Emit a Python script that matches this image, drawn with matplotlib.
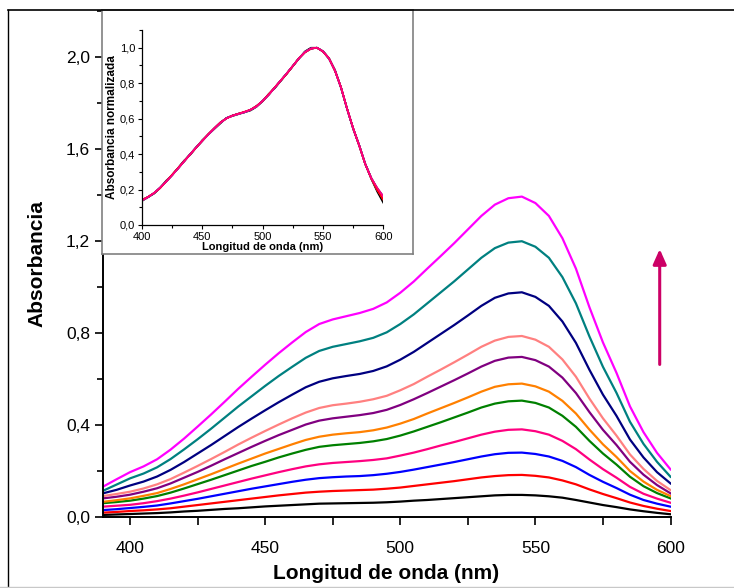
import matplotlib
matplotlib.use("Agg")
import matplotlib.pyplot as plt
from matplotlib.lines import Line2D
from matplotlib.ticker import MultipleLocator, FuncFormatter
import numpy as np

plt.rcParams['font.family'] = ['Liberation Sans', 'DejaVu Sans']

# ---------------- data ----------------
wavelength = [390, 395, 400, 405, 410, 415, 420, 425, 430, 435, 440, 445, 450, 455,
              460, 465, 470, 475, 480, 485, 490, 495, 500, 505, 510, 515, 520, 525,
              530, 535, 540, 545, 550, 555, 560, 565, 570, 575, 580, 585, 590, 595, 600]

abs_magenta = [.132, .164, .195, .220, .251, .293, .341, .393, .446, .501, .557, .610,
               .662, .712, .759, .804, .839, .859, .873, .887, .905, .933, .975, 1.024,
               1.080, 1.135, 1.191, 1.250, 1.309, 1.358, 1.386, 1.393, 1.365, 1.309,
               1.212, 1.080, .912, .759, .627, .481, .369, .279, .207]
abs_teal = [.114, .141, .168, .189, .216, .252, .294, .338, .384, .432, .480, .525,
            .570, .613, .653, .692, .722, .740, .752, .764, .779, .803, .839, .881,
            .929, .977, 1.025, 1.076, 1.127, 1.169, 1.193, 1.199, 1.175, 1.127,
            1.043, .929, .785, .653, .540, .414, .318, .240, .175]
abs_navy = [.103, .118, .137, .154, .176, .205, .239, .276, .313, .352, .391, .428,
            .464, .499, .532, .564, .588, .603, .613, .622, .635, .655, .684, .718,
            .757, .796, .835, .876, .918, .953, .972, .977, .957, .918, .850, .757,
            .640, .532, .440, .337, .259, .195, .146]
abs_salmon = [.091, .100, .110, .124, .142, .165, .193, .222, .252, .283, .315, .345,
              .374, .402, .429, .454, .474, .486, .493, .501, .512, .527, .551, .578,
              .610, .641, .673, .706, .740, .767, .783, .787, .771, .740, .685, .610,
              .515, .429, .354, .272, .209, .157, .117]
abs_purple = [.081, .088, .097, .110, .125, .146, .171, .196, .223, .251, .278, .305,
              .331, .356, .379, .402, .419, .429, .436, .443, .452, .466, .487, .512,
              .539, .567, .595, .624, .654, .679, .693, .696, .682, .654, .606, .539,
              .456, .379, .313, .240, .184, .139, .103]
abs_orange = [.066, .073, .081, .092, .104, .122, .142, .164, .186, .209, .232, .254,
              .276, .296, .316, .335, .349, .358, .364, .369, .377, .389, .406, .426,
              .450, .473, .496, .520, .545, .566, .577, .580, .568, .545, .505, .450,
              .380, .316, .261, .200, .154, .118, .091]
abs_green = [.060, .065, .071, .080, .091, .106, .124, .143, .162, .182, .202, .222,
             .240, .259, .276, .292, .305, .312, .317, .322, .329, .339, .354, .372,
             .392, .412, .433, .454, .476, .493, .503, .506, .496, .476, .440, .392,
             .331, .276, .228, .175, .134, .104, .081]
abs_pink = [.045, .049, .053, .060, .069, .080, .093, .107, .122, .137, .152, .167,
            .181, .195, .208, .220, .229, .235, .239, .243, .248, .255, .267, .280,
            .295, .311, .326, .342, .358, .371, .379, .381, .373, .358, .331, .295,
            .250, .208, .171, .131, .101, .080, .062]
abs_blue = [.030, .034, .039, .044, .050, .059, .069, .079, .090, .101, .112, .123,
            .133, .143, .153, .162, .169, .173, .176, .178, .182, .188, .196, .206,
            .217, .228, .239, .251, .263, .273, .279, .280, .274, .263, .244, .217,
            .183, .153, .126, .097, .074, .058, .045]
abs_red = [.019, .022, .026, .029, .033, .038, .045, .052, .059, .066, .073, .080,
           .087, .094, .100, .106, .110, .113, .115, .117, .119, .123, .128, .135,
           .142, .149, .156, .164, .172, .178, .182, .183, .179, .172, .159, .142,
           .120, .100, .082, .063, .048, .036, .026]
abs_black = [.009, .011, .013, .015, .017, .020, .024, .027, .031, .035, .038, .042,
             .046, .049, .052, .055, .058, .059, .060, .061, .062, .064, .067, .071,
             .074, .078, .082, .086, .090, .094, .096, .096, .094, .090, .084, .074,
             .063, .052, .043, .033, .025, .018, .012]

series = [abs_black, abs_red, abs_blue, abs_pink, abs_green, abs_orange,
          abs_purple, abs_salmon, abs_navy, abs_teal, abs_magenta]
colors = ['#000000', '#FF0000', '#0000FF', '#FF0080', '#008000', '#FF8000',
          '#800080', '#FF8080', '#000080', '#008080', '#FF00FF']

x_major = [400, 450, 500, 550, 600]
y_major = [0.0, 0.4, 0.8, 1.2, 1.6, 2.0]
inset_y_major = [0.0, 0.2, 0.4, 0.6, 0.8, 1.0]

W, H = 734, 588
fig = plt.figure(figsize=(W / 100, H / 100), dpi=100)

def fx(px):
    return px / W

def fy(py):
    return 1 - py / H

comma = FuncFormatter(lambda v, p: f"{v:.1f}".replace('.', ','))

# ---------------- main axes ----------------
ax = fig.add_axes([fx(102.5), fy(517), fx(670.5) - fx(102.5), fy(11) - fy(517)])
for s, c in zip(series, colors):
    ax.plot(wavelength, s, color=c, lw=1.6, solid_joinstyle='round')
ax.set_xlim(389.8, 600)
ax.set_ylim(0, 2.2)
ax.spines['top'].set_visible(False)
ax.spines['right'].set_visible(False)
for sp in ('left', 'bottom'):
    ax.spines[sp].set_linewidth(1.4)
ax.set_xticks(x_major)
ax.xaxis.set_minor_locator(MultipleLocator(25))
ax.set_yticks(y_major)
ax.yaxis.set_minor_locator(MultipleLocator(0.2))
ax.yaxis.set_major_formatter(comma)
ax.tick_params(axis='both', which='both', direction='out', width=1.2, labelsize=12.5)
ax.tick_params(axis='x', which='both', length=6, pad=11)
ax.tick_params(axis='y', which='major', length=6, pad=3)
ax.tick_params(axis='y', which='minor', length=4)
ax.set_xlabel('Longitud de onda (nm)', fontsize=15, fontweight='bold', labelpad=6)
ax.set_ylabel('Absorbancia', fontsize=15, fontweight='bold', labelpad=14)

# arrow
ax.annotate('', xy=(0.981, 0.535), xytext=(0.981, 0.296), xycoords='axes fraction',
            arrowprops=dict(arrowstyle='-|>,head_length=0.9,head_width=0.4',
                            color='#CC0066', lw=2.2))

# ---------------- inset box ----------------
box = fig.add_axes([fx(102), fy(254), fx(413) - fx(102), fy(10) - fy(254)])
box.set_xticks([]); box.set_yticks([])
box.set_facecolor('white')
for sp in box.spines.values():
    sp.set_color('#808080'); sp.set_linewidth(1.2)
box.set_zorder(5)

ins = fig.add_axes([fx(142), fy(225), fx(383.3) - fx(142), fy(30) - fy(225)])
ins.set_zorder(6)
ins.patch.set_alpha(0)
inset_order = [0, 2, 4, 5, 6, 7, 8, 9, 10, 1, 3]
for i in inset_order:
    s = np.array(series[i])
    ins.plot(wavelength, s / s.max(), color=colors[i], lw=1.2)
ins.set_xlim(400, 600)
ins.set_ylim(0, 1.1)
ins.spines['top'].set_visible(False)
ins.spines['right'].set_visible(False)
for sp in ('left', 'bottom'):
    ins.spines[sp].set_linewidth(0.9)
ins.set_xticks(x_major)
ins.xaxis.set_minor_locator(MultipleLocator(25))
ins.set_yticks(inset_y_major)
ins.yaxis.set_minor_locator(MultipleLocator(0.1))
ins.yaxis.set_major_formatter(comma)
ins.tick_params(axis='both', which='major', direction='out', length=3, width=0.8,
                labelsize=8, pad=2)
ins.tick_params(axis='both', which='minor', direction='out', length=2, width=0.8)
ins.set_xlabel('Longitud de onda (nm)', fontsize=8, fontweight='bold', labelpad=0)
ins.set_ylabel('Absorbancia normalizada', fontsize=8.5, fontweight='bold', labelpad=1)

# ---------------- outer frame ----------------
for l in (Line2D([fx(8), fx(8)], [fy(10), fy(588)], color='black', lw=1.0),
          Line2D([fx(8), 1], [fy(10), fy(10)], color='black', lw=1.2),
          Line2D([0, 1], [fy(587), fy(587)], color='#c8c8c8', lw=1.0)):
    l.set_zorder(20)
    fig.add_artist(l)

fig.savefig('out.png', dpi=100)
